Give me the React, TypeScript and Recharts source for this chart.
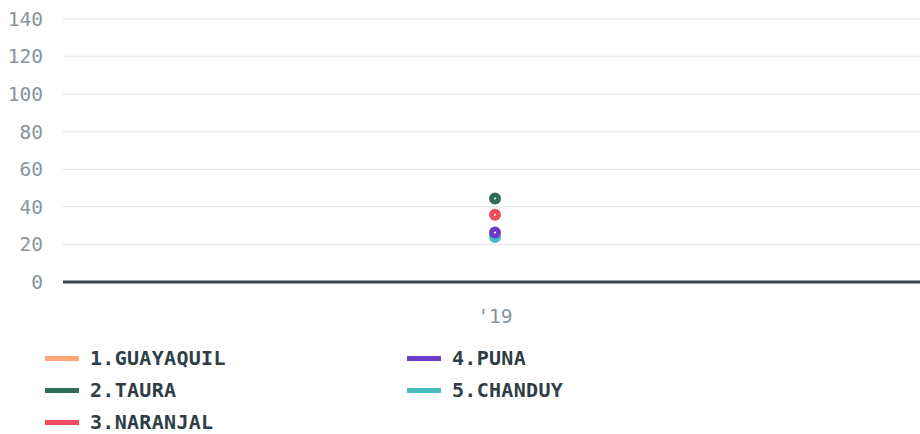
import { LineChart, Line, XAxis, YAxis, CartesianGrid } from "recharts";

const years = ["'19"];
const guayaquil: (number | null)[] = [null];
const taura = [44.5];
const naranjal = [35.8];
const puna = [26.3];
const chanduy = [24];
const yTicks = [0, 20, 40, 60, 80, 100, 120, 140];

const series = [
  { key: "guayaquil", name: "1.GUAYAQUIL", color: "#ffa677", values: guayaquil },
  { key: "taura", name: "2.TAURA", color: "#2d6e56", values: taura },
  { key: "naranjal", name: "3.NARANJAL", color: "#ef4d62", values: naranjal },
  { key: "puna", name: "4.PUNA", color: "#6a3dc8", values: puna },
  { key: "chanduy", name: "5.CHANDUY", color: "#45bcbe", values: chanduy },
];

const data = years.map((year, i) => {
  const row: Record<string, string | number | null> = { year };
  series.forEach((s) => (row[s.key] = s.values[i]));
  return row;
});

// later series drawn first so PUNA sits on top of CHANDUY, as in the original
const drawOrder = [series[0], series[4], series[1], series[2], series[3]];

const font = "'DejaVu Sans Mono', monospace";

export default function App() {
  return (
    <div style={{ position: "absolute", left: 0, top: 0, width: 920, height: 434, background: "#fff", overflow: "hidden" }}>
      <LineChart width={920} height={340} data={data} margin={{ top: 19, right: 0, left: 0, bottom: 0 }}>
        <CartesianGrid vertical={false} stroke="#e7eaeb" strokeWidth={1.5} />
        <XAxis
          dataKey="year"
          height={58}
          padding={{ left: 7, right: 0 }}
          axisLine={{ stroke: "#37474f", strokeWidth: 3 }}
          tickLine={false}
          tickSize={0}
          tickMargin={27}
          tick={{ fontSize: 19.5, fill: "#89949a", fontFamily: font }}
        />
        <YAxis
          width={63}
          domain={[0, 140]}
          ticks={yTicks}
          axisLine={false}
          tickLine={false}
          tickSize={0}
          tickMargin={20}
          tick={{ fontSize: 19.5, fill: "#89949a", fontFamily: font }}
        />
        {drawOrder.map((s) => (
          <Line
            key={s.key}
            dataKey={s.key}
            name={s.name}
            stroke={s.color}
            strokeWidth={3}
            dot={{ r: 3.5, strokeWidth: 5, fill: "#fff", stroke: s.color }}
            isAnimationActive={false}
          />
        ))}
      </LineChart>
      <div
        style={{
          position: "absolute",
          left: 45,
          top: 342,
          display: "grid",
          gridTemplateColumns: "362px 362px",
          gridTemplateRows: "32px 32px 32px",
          gridAutoFlow: "column",
          fontFamily: font,
          fontWeight: "bold",
          fontSize: 20,
          letterSpacing: 0.3,
          color: "#2f3e46",
        }}
      >
        {series.map((s) => (
          <div key={s.key} style={{ display: "flex", alignItems: "center", height: 32 }}>
            <span style={{ display: "inline-block", width: 34, height: 5, background: s.color, marginRight: 11 }} />
            <span>{s.name}</span>
          </div>
        ))}
      </div>
    </div>
  );
}
